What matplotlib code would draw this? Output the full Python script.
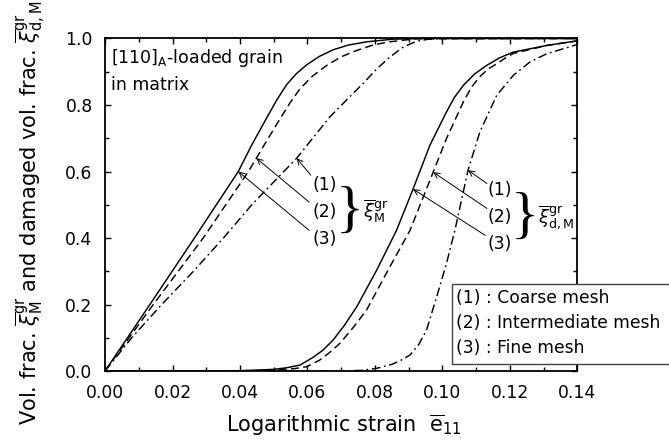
import matplotlib
matplotlib.use('Agg')
import matplotlib.pyplot as plt
import numpy as np
from matplotlib.patches import Rectangle
from matplotlib.ticker import MultipleLocator

plt.rcParams['font.family'] = ['DejaVu Sans']
plt.rcParams['mathtext.fontset'] = 'dejavusans'

# martensite volume fraction (left group)
xm_coarse = [0.0, 0.0079, 0.0168, 0.0262, 0.0351, 0.0435, 0.0568, 0.0667, 0.0765, 0.0805, 0.0844,
             0.0885, 0.0924, 0.096, 0.100, 0.14]
ym_coarse = [0.0, 0.1, 0.2, 0.3, 0.4, 0.5, 0.64, 0.765, 0.865, 0.908, 0.944,
             0.975, 0.992, 0.998, 1.0, 1.0]
xm_inter = [0.0, 0.0143, 0.0291, 0.0425, 0.0472, 0.0519, 0.0548, 0.0578, 0.0615, 0.0657, 0.070,
            0.0746, 0.079, 0.0835, 0.092, 0.14]
ym_inter = [0.0, 0.2, 0.4, 0.6, 0.68, 0.759, 0.806, 0.849, 0.887, 0.919, 0.945,
            0.964, 0.979, 0.989, 0.999, 1.0]
xm_fine = [0.0, 0.0133, 0.0265, 0.0395, 0.0435, 0.0479, 0.0509, 0.0538, 0.0568, 0.0598, 0.0635,
           0.0676, 0.072, 0.0775, 0.0854, 0.095, 0.14]
ym_fine = [0.0, 0.2, 0.4, 0.6, 0.68, 0.761, 0.815, 0.861, 0.895, 0.921, 0.946,
           0.966, 0.98, 0.99, 0.998, 1.0, 1.0]

# damaged volume fraction (right group)
xd_coarse = [0.0, 0.07, 0.076, 0.0805, 0.085, 0.0875, 0.0904, 0.093, 0.0953, 0.0983, 0.1012, 0.1037,
             0.1076, 0.1111, 0.1161, 0.121, 0.1259, 0.1309, 0.14]
yd_coarse = [0.0, 0.0, 0.002, 0.008, 0.02, 0.031, 0.048, 0.08, 0.123, 0.223, 0.323, 0.423,
             0.604, 0.719, 0.829, 0.889, 0.929, 0.954, 0.982]
xd_inter = [0.0, 0.045, 0.052, 0.056, 0.0598, 0.0635, 0.0665, 0.0696, 0.0735, 0.0775, 0.0844, 0.0904,
            0.0973, 0.1012, 0.1062, 0.1087, 0.1111, 0.1135, 0.1161, 0.1185, 0.121, 0.1309, 0.14]
yd_inter = [0.0, 0.001, 0.004, 0.007, 0.013, 0.032, 0.055, 0.083, 0.13, 0.183, 0.313, 0.423,
            0.599, 0.699, 0.809, 0.855, 0.885, 0.908, 0.924, 0.94, 0.955, 0.979, 0.993]
xd_fine = [0.0, 0.04, 0.05, 0.054, 0.0578, 0.0615, 0.0645, 0.0676, 0.071, 0.0746, 0.0805, 0.0864,
           0.0913, 0.0963, 0.1012, 0.1035, 0.1062, 0.1095, 0.1131, 0.117, 0.121, 0.1309, 0.14]
yd_fine = [0.0, 0.001, 0.005, 0.01, 0.018, 0.04, 0.062, 0.093, 0.138, 0.193, 0.303, 0.423,
           0.547, 0.679, 0.779, 0.822, 0.859, 0.893, 0.919, 0.942, 0.959, 0.979, 0.993]

mesh_names = ['Coarse mesh', 'Intermediate mesh', 'Fine mesh']

fig = plt.figure(figsize=(6.69, 4.42), dpi=100)
ax = fig.add_axes([0.157, 0.1606, 0.706, 0.7523])

sty = {'coarse': (0, (6, 2.5, 1.2, 2.5)), 'inter': (0, (5.5, 3)), 'fine': '-'}
lw = 1.05
ax.plot(xm_coarse, ym_coarse, color='k', lw=lw, ls=sty['coarse'])
ax.plot(xm_inter, ym_inter, color='k', lw=lw, ls=sty['inter'])
ax.plot(xm_fine, ym_fine, color='k', lw=lw, ls=sty['fine'])
ax.plot(xd_coarse, yd_coarse, color='k', lw=lw, ls=sty['coarse'])
ax.plot(xd_inter, yd_inter, color='k', lw=lw, ls=sty['inter'])
ax.plot(xd_fine, yd_fine, color='k', lw=lw, ls=sty['fine'])

ax.set_xlim(0, 0.14)
ax.set_ylim(0, 1.0)
ax.xaxis.set_major_locator(MultipleLocator(0.02))
ax.xaxis.set_minor_locator(MultipleLocator(0.01))
ax.yaxis.set_major_locator(MultipleLocator(0.2))
ax.yaxis.set_minor_locator(MultipleLocator(0.1))
ax.set_xticklabels([f'{v:.2f}' for v in ax.get_xticks()])
ax.set_yticklabels([f'{v:.1f}' for v in ax.get_yticks()])
ax.tick_params(which='both', direction='in', top=True, right=True, labelsize=12.3, pad=9)
ax.tick_params(which='major', length=4.5, width=1.0)
ax.tick_params(which='minor', length=3, width=1.0)
for s in ax.spines.values():
    s.set_linewidth(1.3)

fig.text(344 / 669, 1 - 425 / 442, r'Logarithmic strain  $\overline{\rm e}_{11}$',
         ha='center', va='center', fontsize=15)
fig.text(30 / 669, 1 - 213 / 442,
         r'Vol. frac. $\overline{\xi}^{\rm gr}_{\rm M}$ and damaged vol. frac. $\overline{\xi}^{\rm gr}_{\rm d,M}$',
         ha='center', va='center', rotation=90, fontsize=15)

ax.text(0.0018, 0.925, r'[110]$_{\rm A}$-loaded grain', fontsize=12.5, ha='left', va='baseline')
ax.text(0.0018, 0.844, 'in matrix', fontsize=12.5, ha='left', va='baseline')

# arrows and labels, left group
arrow_kw = dict(arrowstyle='->', lw=0.7, color='k', shrinkA=0, shrinkB=0)
left_tips_y = [0.64, 0.64, 0.60]
left_curves = [(xm_coarse, ym_coarse), (xm_inter, ym_inter), (xm_fine, ym_fine)]
left_start = [(0.0610, 0.589), (0.0605, 0.508), (0.0605, 0.423)]
left_lab_y = [0.559, 0.478, 0.398]
for i in range(3):
    cx, cy = left_curves[i]
    tip = (np.interp(left_tips_y[i], cy, cx), left_tips_y[i])
    ax.annotate('', xy=tip, xytext=left_start[i], arrowprops=arrow_kw)
    ax.text(0.0650, left_lab_y[i], f'({i + 1})', fontsize=12.3, ha='center', va='center')
ax.text(0.0725, 0.477, '}', fontsize=42, ha='center', va='center', family='Liberation Serif')
ax.text(0.0764, 0.48, r'$\overline{\xi}^{\rm gr}_{\rm M}$', fontsize=13, ha='left', va='center')

# right group
right_tips_y = [0.604, 0.598, 0.547]
right_curves = [(xd_coarse, yd_coarse), (xd_inter, yd_inter), (xd_fine, yd_fine)]
right_start = [(0.1132, 0.564), (0.1132, 0.489), (0.1127, 0.408)]
right_lab_y = [0.544, 0.463, 0.383]
for i in range(3):
    cx, cy = right_curves[i]
    tip = (np.interp(right_tips_y[i], cy, cx), right_tips_y[i])
    ax.annotate('', xy=tip, xytext=right_start[i], arrowprops=arrow_kw)
    ax.text(0.1171, right_lab_y[i], f'({i + 1})', fontsize=12.3, ha='center', va='center')
ax.text(0.1244, 0.459, '}', fontsize=42, ha='center', va='center', family='Liberation Serif')
ax.text(0.1282, 0.46, r'$\overline{\xi}^{\rm gr}_{\rm d,M}$', fontsize=13, ha='left', va='center')

# legend box (runs off the right edge)
fig.patches.append(Rectangle((451.7 / 669, 1 - 364 / 442), 0.4, 80 / 442, transform=fig.transFigure,
                             facecolor='white', edgecolor='#444444', lw=1.0, clip_on=False))
for i, name in enumerate(mesh_names):
    fig.text(456 / 669, 1 - (298.3 + 24.7 * i) / 442, f'({i + 1}) : {name}',
             fontsize=12.3, ha='left', va='center')

fig.savefig('out.png', dpi=100)
